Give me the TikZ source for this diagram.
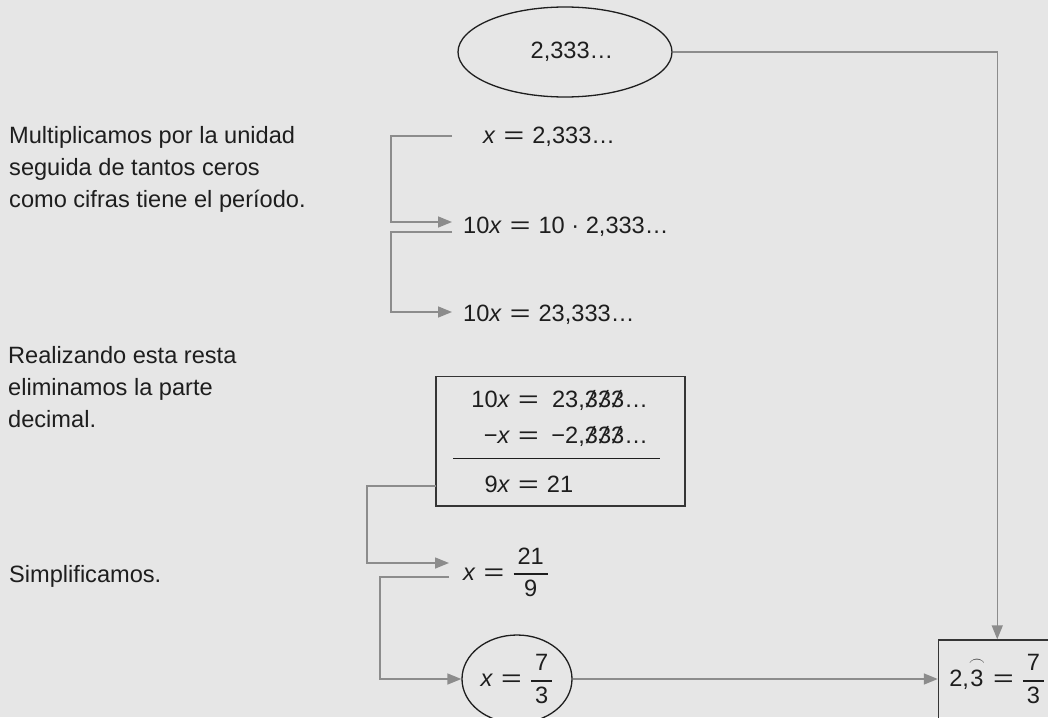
\RequirePackage{fix-cm}
\documentclass[tikz,border=0pt]{standalone}
\usepackage{amsmath}
\usepackage{graphicx}
\usepackage{fontspec}
\setmainfont{Liberation Sans}
\usetikzlibrary{arrows.meta,shapes.geometric,fit}
\definecolor{bgcol}{HTML}{E6E6E6}
\definecolor{conngray}{HTML}{8C8C8C}
\definecolor{ink}{HTML}{1E1E1E}
\newcommand{\slthree}{\ooalign{3\cr\hidewidth\textit{/}\hidewidth\cr}}
\newcommand{\myfrac}[2]{\(\genfrac{}{}{1.8pt}{0}{\,\text{#1}\,}{\,\text{#2}\,}\)}
\newcommand{\eqs}{\hspace{8pt}\scalebox{1.5}[1]{=}\hspace{8pt}}
\tikzset{
  conn/.style={draw=conngray, line width=1.5pt},
  connarrow/.style={conn, -{Triangle[length=14pt,width=11pt]}},
  txt/.style={inner sep=0pt, text=ink},
  oval/.style={ellipse, draw=ink, line width=1.3pt, inner sep=0pt, text=ink},
  frame/.style={draw=ink!90, line width=1.4pt, inner sep=0pt},
}
\begin{document}
\begin{tikzpicture}[x=1pt,y=-1pt,font=\fontsize{23.6}{32}\selectfont]
\useasboundingbox (0,0) rectangle (1048,717);
\fill[bgcol] (0,0) rectangle (1048,717);
\clip (0,0) rectangle (1048,717);

% left explanations (base anchor = last line)
\node[txt, anchor=base west, align=left] (t1) at (9,207)
  {Multiplicamos por la unidad\\seguida de tantos ceros\\como cifras tiene el período.};
\node[txt, anchor=base west, align=left] (t2) at (8,427)
  {Realizando esta resta\\eliminamos la parte\\decimal.};
\node[txt, anchor=base west] (t3) at (9,582) {Simplificamos.};

% top ellipse
\node[oval, minimum width=214, minimum height=90] (e1) at (565,52) {\hspace{14pt}2,333…};

% equations
\node[txt, anchor=base west] (eq1) at (483,143) {\textit{x}\eqs 2,333…};
\node[txt, anchor=base west] (eq2) at (463,233) {10\textit{x}\eqs 10 · 2,333…};
\node[txt, anchor=base west] (eq3) at (463,321) {10\textit{x}\eqs 23,333…};

% subtraction box
\node[frame, fit={(436,376.7) (685,506)}] (sub) {};
\node[txt, anchor=base west] (r1) at (460,407)
  {\makebox[50pt][r]{10\textit{x}}\eqs\makebox[101pt][r]{23,\slthree\slthree\slthree…}};
\node[txt, anchor=base west] (r2) at (460,443)
  {\makebox[50pt][r]{−\textit{x}}\eqs\makebox[101pt][r]{−2,\slthree\slthree\slthree…}};
\node[txt, anchor=base west] (r3) at (460,492.7)
  {\makebox[50pt][r]{9\textit{x}}\eqs 21};
\coordinate (ruleL) at (453,458.7);
\coordinate (ruleR) at (660,458.7);
\draw[ink, line width=1.5pt] (ruleL) -- (ruleR);

% fraction 21/9
\node[txt, anchor=base west] (f1) at (463,580) {\textit{x}\eqs\myfrac{21}{9}};

% bottom ellipse
\node[oval, minimum width=110, minimum height=88] (e2) at (517,679) {\textit{x}\eqs\myfrac{7}{3}};

% result box
\node[frame, fit={(938.5,640) (1056,730)}] (resbox) {};
\node[txt] (res) at (997.2,679) {2,\(\overset{\frown}{\text{3}}\)\eqs\myfrac{7}{3}};

% connector coordinates
\coordinate (a1s) at (452,136);
\coordinate (a1e) at (452,222);
\coordinate (a2s) at (452,232);
\coordinate (a2e) at (452,312);
\coordinate (a3s) at (436,486);
\coordinate (a3e) at (449,563);
\coordinate (a4s) at (449,577);

\draw[connarrow] (a1s) -- ++(-61,0) |- (a1e);
\draw[connarrow] (a2s) -- ++(-61,0) |- (a2e);
\draw[connarrow] (a3s) -- ++(-69,0) |- (a3e);
\draw[connarrow] (a4s) -- ++(-69,0) |- (e2.west);
\draw[connarrow] (e2.east) -- (e2.east -| resbox.west);
\draw[connarrow] (e1.east) -| (resbox.north);
\end{tikzpicture}
\end{document}
